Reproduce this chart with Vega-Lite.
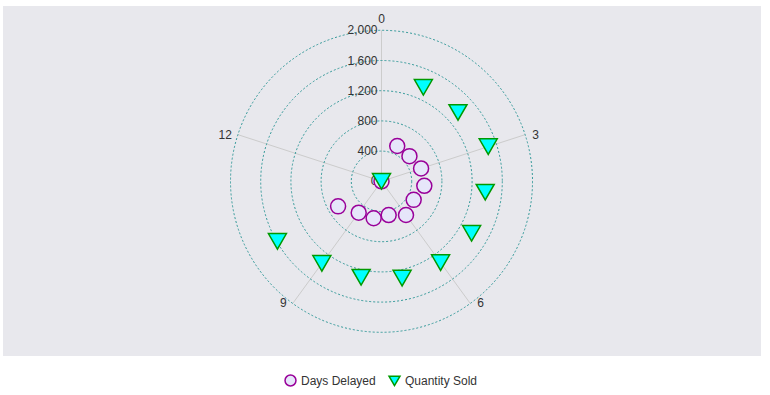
{
  "$schema": "https://vega.github.io/schema/vega-lite/v6.json",
  "width": 758,
  "height": 350,
  "autosize": "none",
  "padding": {"left": 3, "top": 6, "right": 9, "bottom": 39},
  "background": "white",
  "config": {
    "view": {"fill": "#e8e8ed", "stroke": null},
    "font": "Liberation Sans",
    "text": {"font": "Liberation Sans", "fontSize": 12, "fill": "#333333"},
    "legend": {"labelFont": "Liberation Sans", "labelFontSize": 12, "labelColor": "#333333"}
  },
  "datasets": {
    "points": [
      {"series": "Days Delayed", "month": 0, "value": 0},
      {"series": "Days Delayed", "month": 1, "value": 512},
      {"series": "Days Delayed", "month": 2, "value": 498},
      {"series": "Days Delayed", "month": 3, "value": 551},
      {"series": "Days Delayed", "month": 4, "value": 570},
      {"series": "Days Delayed", "month": 5, "value": 492},
      {"series": "Days Delayed", "month": 6, "value": 552},
      {"series": "Days Delayed", "month": 7, "value": 457},
      {"series": "Days Delayed", "month": 8, "value": 500},
      {"series": "Days Delayed", "month": 9, "value": 514},
      {"series": "Days Delayed", "month": 10, "value": 664},
      {"series": "Quantity Sold", "month": 0, "value": 0},
      {"series": "Quantity Sold", "month": 1, "value": 1363},
      {"series": "Quantity Sold", "month": 2, "value": 1363},
      {"series": "Quantity Sold", "month": 3, "value": 1486},
      {"series": "Quantity Sold", "month": 4, "value": 1381},
      {"series": "Quantity Sold", "month": 5, "value": 1378},
      {"series": "Quantity Sold", "month": 6, "value": 1331},
      {"series": "Quantity Sold", "month": 7, "value": 1311},
      {"series": "Quantity Sold", "month": 8, "value": 1299},
      {"series": "Quantity Sold", "month": 9, "value": 1344},
      {"series": "Quantity Sold", "month": 10, "value": 1592}
    ],
    "ticks": [{"r": 0}, {"r": 400}, {"r": 800}, {"r": 1200}, {"r": 1600}, {"r": 2000}],
    "spokes": [{"month": 0}, {"month": 3}, {"month": 6}, {"month": 9}, {"month": 12}]
  },
  "layer": [
    {
      "data": {"name": "spokes"},
      "transform": [
        {"calculate": "0", "as": "cx"},
        {"calculate": "2000*sin(datum.month*2*PI/15)", "as": "sx"},
        {"calculate": "2000*cos(datum.month*2*PI/15)", "as": "sy"}
      ],
      "mark": {"type": "rule", "stroke": "#cccccc", "strokeWidth": 1},
      "encoding": {
        "x": {"field": "cx", "type": "quantitative", "scale": {"domain": [-5013, 5026], "nice": false, "zero": false}, "axis": null},
        "y": {"field": "cx", "type": "quantitative", "scale": {"domain": [-2314, 2322], "nice": false, "zero": false}, "axis": null},
        "x2": {"field": "sx"},
        "y2": {"field": "sy"}
      }
    },
    {
      "data": {"name": "ticks"},
      "transform": [{"filter": "datum.r > 0"}, {"calculate": "0", "as": "cx"}],
      "mark": {"type": "point", "shape": "circle", "filled": false, "stroke": "#339999", "strokeWidth": 1, "strokeDash": [2, 2], "opacity": 1},
      "encoding": {
        "x": {"field": "cx", "type": "quantitative", "scale": {"domain": [-5013, 5026], "nice": false, "zero": false}, "axis": null},
        "y": {"field": "cx", "type": "quantitative", "scale": {"domain": [-2314, 2322], "nice": false, "zero": false}, "axis": null},
        "size": {"field": "r", "type": "quantitative", "scale": {"type": "pow", "exponent": 2, "domain": [0, 2000], "range": [0, 91204], "zero": true}, "legend": null}
      }
    },
    {
      "data": {"name": "ticks"},
      "transform": [{"calculate": "0", "as": "cx"}],
      "mark": {"type": "text", "align": "right", "baseline": "middle", "dx": -4},
      "encoding": {
        "x": {"field": "cx", "type": "quantitative", "scale": {"domain": [-5013, 5026], "nice": false, "zero": false}, "axis": null},
        "y": {"field": "r", "type": "quantitative", "scale": {"domain": [-2314, 2322], "nice": false, "zero": false}, "axis": null},
        "text": {"field": "r", "type": "quantitative", "format": ","}
      }
    },
    {
      "data": {"name": "spokes"},
      "transform": [
        {"filter": "datum.month == 0"},
        {"calculate": "2000*sin(datum.month*2*PI/15)", "as": "lx"},
        {"calculate": "2000*cos(datum.month*2*PI/15)", "as": "ly"}
      ],
      "mark": {"type": "text", "align": "center", "baseline": "bottom", "dy": -4},
      "encoding": {
        "x": {"field": "lx", "type": "quantitative", "scale": {"domain": [-5013, 5026], "nice": false, "zero": false}, "axis": null},
        "y": {"field": "ly", "type": "quantitative", "scale": {"domain": [-2314, 2322], "nice": false, "zero": false}, "axis": null},
        "text": {"field": "month", "type": "nominal"}
      }
    },
    {
      "data": {"name": "spokes"},
      "transform": [
        {"filter": "datum.month == 3 || datum.month == 6"},
        {"calculate": "2000*sin(datum.month*2*PI/15)", "as": "lx"},
        {"calculate": "2000*cos(datum.month*2*PI/15)", "as": "ly"}
      ],
      "mark": {"type": "text", "align": "left", "baseline": "middle", "dx": 7},
      "encoding": {
        "x": {"field": "lx", "type": "quantitative", "scale": {"domain": [-5013, 5026], "nice": false, "zero": false}, "axis": null},
        "y": {"field": "ly", "type": "quantitative", "scale": {"domain": [-2314, 2322], "nice": false, "zero": false}, "axis": null},
        "text": {"field": "month", "type": "nominal"}
      }
    },
    {
      "data": {"name": "spokes"},
      "transform": [
        {"filter": "datum.month == 9 || datum.month == 12"},
        {"calculate": "2000*sin(datum.month*2*PI/15)", "as": "lx"},
        {"calculate": "2000*cos(datum.month*2*PI/15)", "as": "ly"}
      ],
      "mark": {"type": "text", "align": "right", "baseline": "middle", "dx": -6},
      "encoding": {
        "x": {"field": "lx", "type": "quantitative", "scale": {"domain": [-5013, 5026], "nice": false, "zero": false}, "axis": null},
        "y": {"field": "ly", "type": "quantitative", "scale": {"domain": [-2314, 2322], "nice": false, "zero": false}, "axis": null},
        "text": {"field": "month", "type": "nominal"}
      }
    },
    {
      "data": {"name": "points"},
      "transform": [
        {"filter": "datum.series == 'Days Delayed'"},
        {"calculate": "datum.value*sin(datum.month*2*PI/15)", "as": "px"},
        {"calculate": "datum.value*cos(datum.month*2*PI/15)", "as": "py"}
      ],
      "mark": {"type": "point", "filled": true, "size": 225, "strokeWidth": 1.5, "opacity": 1},
      "encoding": {
        "x": {"field": "px", "type": "quantitative", "scale": {"domain": [-5013, 5026], "nice": false, "zero": false}, "axis": null},
        "y": {"field": "py", "type": "quantitative", "scale": {"domain": [-2314, 2322], "nice": false, "zero": false}, "axis": null},
        "shape": {"field": "series", "type": "nominal", "scale": {"domain": ["Days Delayed", "Quantity Sold"], "range": ["circle", "triangle-down"]}, "legend": {"title": null, "orient": "none", "legendX": 281, "legendY": 368, "direction": "horizontal", "symbolSize": 120, "symbolStrokeWidth": 1.5}},
        "fill": {"field": "series", "type": "nominal", "scale": {"domain": ["Days Delayed", "Quantity Sold"], "range": ["#e6e6fa", "#00ffff"]}, "legend": {"title": null, "orient": "none", "legendX": 281, "legendY": 368, "direction": "horizontal", "symbolSize": 120, "symbolStrokeWidth": 1.5}},
        "stroke": {"field": "series", "type": "nominal", "scale": {"domain": ["Days Delayed", "Quantity Sold"], "range": ["#990099", "#009900"]}, "legend": {"title": null, "orient": "none", "legendX": 281, "legendY": 368, "direction": "horizontal", "symbolSize": 120, "symbolStrokeWidth": 1.5}}
      }
    },
    {
      "data": {"name": "points"},
      "transform": [
        {"filter": "datum.series == 'Quantity Sold'"},
        {"calculate": "datum.value*sin(datum.month*2*PI/15)", "as": "px"},
        {"calculate": "datum.value*cos(datum.month*2*PI/15)", "as": "py"}
      ],
      "mark": {"type": "point", "filled": true, "size": 324, "strokeWidth": 1.5, "opacity": 1},
      "encoding": {
        "x": {"field": "px", "type": "quantitative", "scale": {"domain": [-5013, 5026], "nice": false, "zero": false}, "axis": null},
        "y": {"field": "py", "type": "quantitative", "scale": {"domain": [-2314, 2322], "nice": false, "zero": false}, "axis": null},
        "shape": {"field": "series", "type": "nominal", "scale": {"domain": ["Days Delayed", "Quantity Sold"], "range": ["circle", "triangle-down"]}, "legend": {"title": null, "orient": "none", "legendX": 281, "legendY": 368, "direction": "horizontal", "symbolSize": 120, "symbolStrokeWidth": 1.5}},
        "fill": {"field": "series", "type": "nominal", "scale": {"domain": ["Days Delayed", "Quantity Sold"], "range": ["#e6e6fa", "#00ffff"]}, "legend": {"title": null, "orient": "none", "legendX": 281, "legendY": 368, "direction": "horizontal", "symbolSize": 120, "symbolStrokeWidth": 1.5}},
        "stroke": {"field": "series", "type": "nominal", "scale": {"domain": ["Days Delayed", "Quantity Sold"], "range": ["#990099", "#009900"]}, "legend": {"title": null, "orient": "none", "legendX": 281, "legendY": 368, "direction": "horizontal", "symbolSize": 120, "symbolStrokeWidth": 1.5}}
      }
    }
  ]
}
